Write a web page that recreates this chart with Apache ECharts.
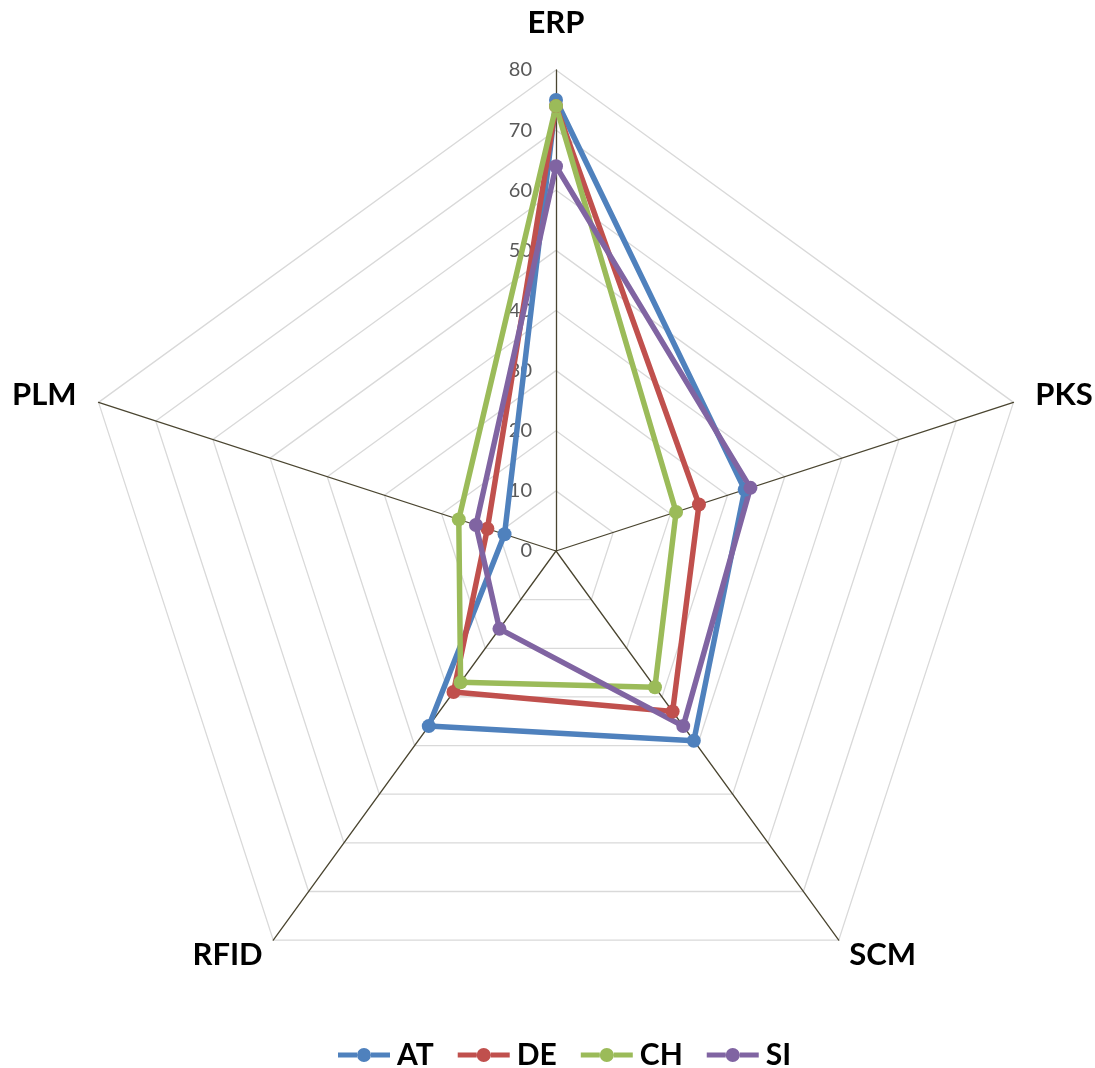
<!DOCTYPE html>
<html>
<head>
<meta charset="utf-8">
<script src="https://cdn.jsdelivr.net/npm/echarts@6/dist/echarts.min.js"></script>
<style>
html,body{margin:0;padding:0;background:#fff;}
#main{width:1095px;height:1068px;}
</style>
</head>
<body>
<div id="main"></div>
<script>
// Categories in clockwise order starting from the top
const indicators = ['ERP', 'PKS', 'SCM', 'RFID', 'PLM'];
const maxValue = 80;
const seriesNames = ['AT', 'DE', 'CH', 'SI'];
const AT = [75, 33, 39, 36, 9];
const DE = [74, 25, 33, 29, 12];
const CH = [74, 21, 28, 27, 17];
const SI = [64, 34, 36, 16, 14];
const colors = ['#4F81BD', '#C0504D', '#9BBB59', '#8064A2'];
const values = [AT, DE, CH, SI];

// ECharts radar runs counter-clockwise; reorder so the chart reads clockwise
const order = [0, 4, 3, 2, 1];
const nameGaps = { ERP: 32, PKS: 23, PLM: 23, SCM: 18, RFID: 18 };

const fontFam = 'Lato, "Open Sans", sans-serif';
const legendIcon = 'path://M2,4.5 L21,4.5 L21,9.5 L2,9.5 Z M35,4.5 L54,4.5 L54,9.5 L35,9.5 Z M21,7 A7,7 0 1 1 35,7 A7,7 0 1 1 21,7 Z';

const chart = echarts.init(document.getElementById('main'));
chart.setOption({
  animation: false,
  color: colors,
  legend: {
    top: 1035,
    left: 333,
    icon: legendIcon,
    itemWidth: 56,
    itemHeight: 14,
    itemGap: 24,
    textStyle: { fontFamily: fontFam, fontWeight: 'bold', fontSize: 30, color: '#000' },
    data: seriesNames
  },
  radar: {
    center: [556, 551],
    radius: 481,
    startAngle: 90,
    shape: 'polygon',
    splitNumber: 8,
    nameGap: 22,
    axisName: { fontFamily: fontFam, fontWeight: 'bold', fontSize: 31, color: '#000' },
    axisLine: { lineStyle: { color: '#4a4530', width: 1.3 } },
    splitLine: { lineStyle: { color: '#d9d9d9', width: 1.3 } },
    splitArea: { show: false },
    axisTick: { show: false },
    axisLabel: { show: false },
    indicator: order.map(i => {
      const n = indicators[i];
      const ind = { name: n, min: 0, max: maxValue, nameGap: nameGaps[n] };
      if (i === 0) {
        ind.axisLabel = { show: true, color: '#595959', fontSize: 20, fontFamily: fontFam, margin: 24 };
      }
      return ind;
    })
  },
  series: [{
    type: 'radar',
    symbol: 'circle',
    symbolSize: 14,
    data: seriesNames.map((n, k) => ({
      name: n,
      value: order.map(i => values[k][i]),
      lineStyle: { color: colors[k], width: 5.5 },
      itemStyle: { color: colors[k] }
    }))
  }]
});
</script>
</body>
</html>
